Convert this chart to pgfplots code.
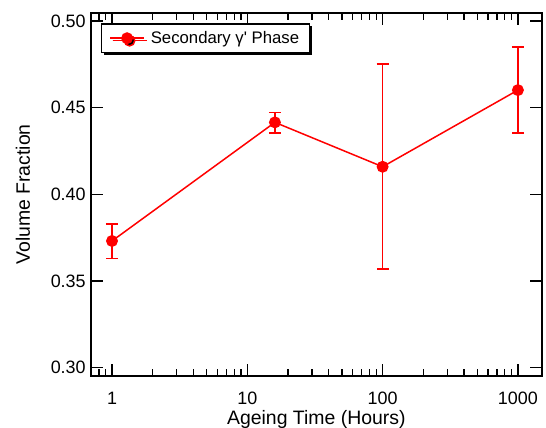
\documentclass[border=0pt]{standalone}
\usepackage{fontspec}
\setmainfont{Liberation Sans}
\newfontfamily\legfont{Liberation Sans}
\usepackage{pgfplots}
\usepackage{pgfplotstable}
\pgfplotsset{compat=1.18}
\usetikzlibrary{shadows}

\pgfplotstableread{
x y ep em
1 0.3731 0.0098 0.0102
16 0.4415 0.0058 0.0060
100 0.4159 0.0592 0.0589
1000 0.4601 0.0250 0.0246
}\datatable

\begin{document}
\begin{tikzpicture}
\begin{axis}[
  at={(90.7bp,52.3bp)}, anchor=south west,
  scale only axis, width=451.3bp, height=362.4bp,
  xmode=log, xmin=0.696, xmax=1507,
  ymin=0.2954, ymax=0.5044,
  xtick={1,10,100,1000}, xticklabels={1,10,100,1000},
  minor xtick={0.8,0.9,2,3,4,5,6,7,8,9,20,30,40,50,60,70,80,90,200,300,400,500,600,700,800,900},
  ytick={0.30,0.35,0.40,0.45,0.50},
  yticklabel style={/pgf/number format/fixed, /pgf/number format/fixed zerofill, /pgf/number format/precision=2},
  /pgf/number format/assume math mode=true,
  tick align=inside,
  major tick length=12bp, minor tick length=6.5bp,
  axis line style={line width=1.8bp},
  every tick/.style={black, line width=1.3bp},
  tick label style={font=\fontsize{18}{21}\selectfont},
  x tick label style={anchor=base, yshift=-28.3bp},
  y tick label style={xshift=-1.5bp},
  label style={font=\fontsize{19.5}{23}\selectfont},
  xlabel={Ageing Time (Hours)},
  ylabel={Volume Fraction},
  xlabel style={at={(axis description cs:0.5,-0.1333)}, anchor=base},
  ylabel style={at={(axis description cs:-0.1345,0.5)}, anchor=base},
  legend style={at={(axis description cs:0.0222,0.9724)}, anchor=north west,
    draw=black, line width=1.2bp, fill=white,
    drop shadow={shadow xshift=2.5bp, shadow yshift=-2.5bp, fill=black, opacity=1},
    font=\legfont\fontsize{16.8}{20}\selectfont, inner xsep=8bp, inner ysep=5.5bp,
    column sep=4bp},
  legend image code/.code={%
    \expandafter\def\csname tikz@preactions\endcsname{}%
    \draw[red, line width=1.5bp] (0bp,0bp) -- (34bp,0bp);
    \expandafter\def\csname tikz@preactions\endcsname{}%
    \fill[red] (17bp,0bp) circle (5.2bp);},
]
\addplot[red, line width=1.5bp, mark=*, mark size=5.2bp, mark options={solid, fill=red},
  error bars/.cd, y dir=both, y explicit,
  error bar style={line width=1.5bp, red},
  error mark options={rotate=90, mark size=6bp, line width=1.5bp, red}]
  table[x=x, y=y, y error plus=ep, y error minus=em] {\datatable};
\addlegendentry{Secondary γ' Phase}
\end{axis}
\pgfresetboundingbox
\path[use as bounding box] (0,0) rectangle (546bp,428bp);
\end{tikzpicture}
\end{document}
